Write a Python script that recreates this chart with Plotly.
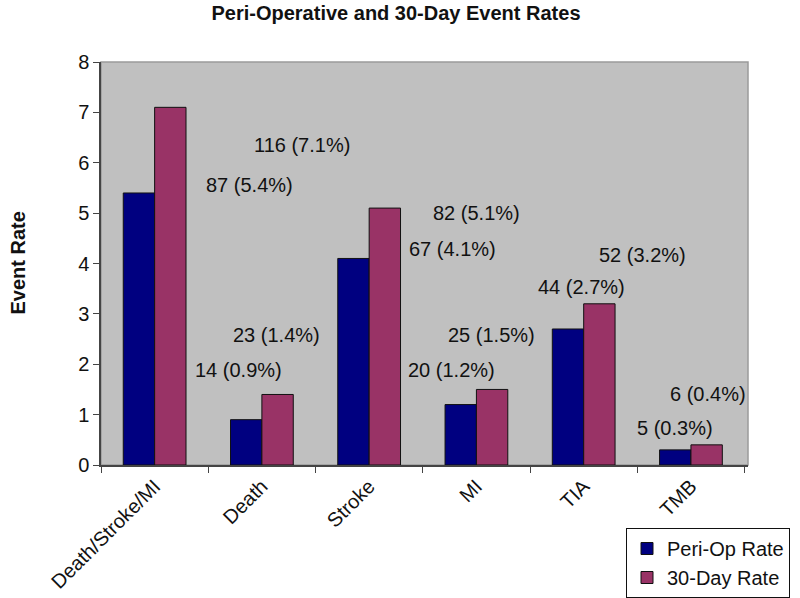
import plotly.graph_objects as go

categories = ["Death/Stroke/MI", "Death", "Stroke", "MI", "TIA", "TMB"]
peri_op_rate = [5.4, 0.9, 4.1, 1.2, 2.7, 0.3]
day30_rate = [7.1, 1.4, 5.1, 1.5, 3.2, 0.4]
peri_op_count = [87, 14, 67, 20, 44, 5]
day30_count = [116, 23, 82, 25, 52, 6]
y_ticks = [0, 1, 2, 3, 4, 5, 6, 7, 8]

# label positions (category index, y value)
peri_label_pos = [(0.882, 5.56), (0.780, 1.88), (2.775, 4.29), (2.765, 1.88), (3.981, 3.53), (4.853, 0.73)]
day30_label_pos = [(1.374, 6.35), (1.133, 2.58), (2.997, 5.00), (3.136, 2.58), (4.546, 4.17), (5.159, 1.41)]

FONT = "Liberation Sans, Arial, sans-serif"

fig = go.Figure()
fig.add_trace(go.Bar(x=categories, y=peri_op_rate, name="Peri-Op Rate",
                     marker=dict(color="#000080", line=dict(color="#111111", width=1))))
fig.add_trace(go.Bar(x=categories, y=day30_rate, name="30-Day Rate",
                     marker=dict(color="#993366", line=dict(color="#111111", width=1))))

annotations = []
for (px, py), n, r in zip(peri_label_pos, peri_op_count, peri_op_rate):
    annotations.append(dict(x=px, y=py, xref="x", yref="y", text=f"{n} ({r}%)", showarrow=False,
                            font=dict(size=20, color="#111111", family=FONT)))
for (px, py), n, r in zip(day30_label_pos, day30_count, day30_rate):
    annotations.append(dict(x=px, y=py, xref="x", yref="y", text=f"{n} ({r}%)", showarrow=False,
                            font=dict(size=20, color="#111111", family=FONT)))
annotations.append(dict(x=-(101 - 17) / 647, y=0.5, xref="paper", yref="paper", text="<b>Event Rate</b>",
                        textangle=-90, showarrow=False, xanchor="center", yanchor="middle",
                        font=dict(size=20, color="#111111", family=FONT)))

fig.update_layout(
    width=800, height=598,
    margin=dict(l=101, r=52, t=62, b=133, autoexpand=False),
    paper_bgcolor="white",
    plot_bgcolor="#c0c0c0",
    barmode="group",
    bargap=0.415,
    bargroupgap=0,
    font=dict(family=FONT, size=20, color="#111111"),
    title=dict(text="<b>Peri-Operative and 30-Day Event Rates</b>", x=0.495, xanchor="center",
               y=1 - 13 / 598, yanchor="middle", yref="container",
               font=dict(size=20, family=FONT, color="#111111")),
    showlegend=True,
    legend=dict(xref="container", yref="container", x=790 / 800, xanchor="right",
                y=1 - 528 / 598, yanchor="top", bgcolor="white",
                bordercolor="#111111", borderwidth=1, font=dict(size=20, family=FONT),
                itemwidth=30, tracegroupgap=0),
    annotations=annotations,
    shapes=[dict(type="rect", xref="paper", yref="paper", x0=0, y0=0, x1=1, y1=1,
                 line=dict(color="#9a9a9a", width=1.5), layer="below")],
)
fig.update_xaxes(type="category", showline=True, linecolor="#444444", linewidth=1.5,
                 ticks="outside", ticklen=6, tickcolor="#444444", tickson="boundaries",
                 tickangle=-45, tickfont=dict(size=20), automargin=False, showgrid=False)
fig.update_yaxes(range=[0, 8], tickvals=y_ticks, showline=True, linecolor="#444444", linewidth=1.5,
                 ticks="outside", ticklen=6, tickcolor="#444444", showgrid=False, zeroline=False,
                 tickfont=dict(size=20), automargin=False)

fig.write_html("out.html", config={"displayModeBar": False},
               post_script="document.body.style.margin='0px';document.body.style.overflow='hidden';")
